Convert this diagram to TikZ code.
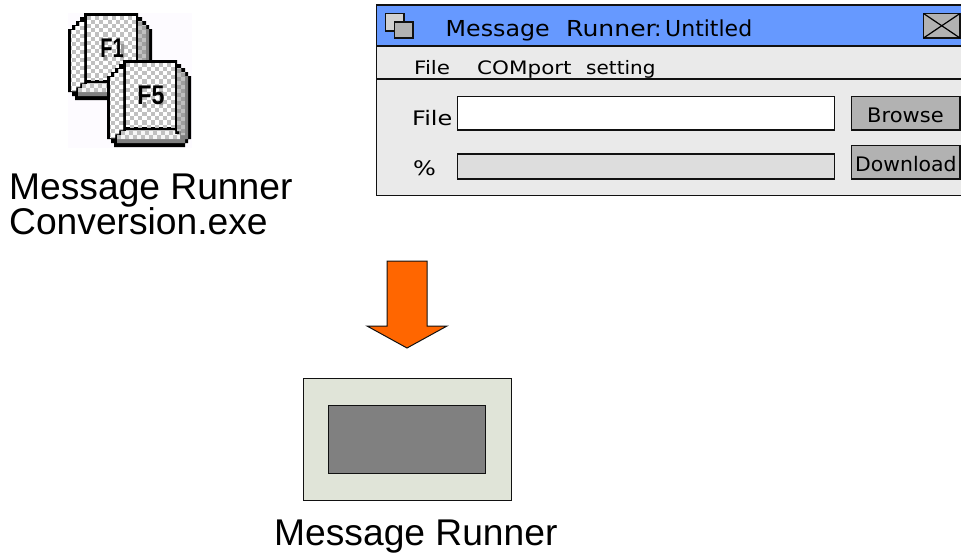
\documentclass[tikz,border=0pt]{standalone}
\usepackage{fontspec}
\setmainfont{Liberation Sans}
\newfontfamily\uifont{DejaVu Sans}
\definecolor{barblue}{HTML}{6699FF}
\definecolor{winbg}{HTML}{EAEAEA}
\definecolor{progbg}{HTML}{DDDDDD}
\definecolor{btnbg}{HTML}{B2B2B2}
\definecolor{devbg}{HTML}{E0E4D8}
\definecolor{devscr}{HTML}{808080}
\definecolor{arrowor}{HTML}{FF6600}
\definecolor{iconbg}{HTML}{FDFBFF}
\definecolor{chk}{HTML}{C0C0C0}
\definecolor{edge}{HTML}{111111}
\newcommand{\keyicon}[4]{% dx dy label xscale
  \begin{scope}[shift={(#1,#2)}]
    % stepped black outline
    \fill[black] (84,13)--(138,13)--(138,17)--(142,17)--(142,21)--(146,21)--(146,25)--(149,25)--(149,29)--(152,29)
      --(152,92)--(149,92)--(149,96)--(146,96)--(146,100)--(75,100)--(75,96)--(72,96)--(72,92)--(68,92)
      --(68,29)--(72,29)--(72,25)--(76,25)--(76,21)--(80,21)--(80,17)--(84,17)--cycle;
    \fill[gray] (140,21)--(142,21)--(142,25)--(146,25)--(146,29)--(149,29)--(149,92)--(146,92)--(146,96)--(78,96)--(78,92)--(140,92)--cycle;
    \fill[white] (71,30)--(75,30)--(75,26)--(79,26)--(79,22)--(84,22)--(84,83)--(80,83)--(80,87)--(76,87)--(76,91)--(71,91)--cycle;
    \fill[chk] (87,83)--(136,83)--(136,87)--(141,87)--(141,92)--(78,92)--(78,88)--(82,88)--(82,84)--(87,84)--cycle;
    \fill[gray!75] (138,21)--(142,21)--(142,25)--(146,25)--(146,88)--(142,88)--(142,84)--(138,84)--cycle;
    \begin{scope}
      \clip (71,30)--(75,30)--(75,26)--(79,26)--(79,22)--(84,22)--(84,83)--(80,83)--(80,87)--(76,87)--(76,91)--(71,91)--cycle;
      \foreach \i in {0,...,4}\foreach \j in {0,...,20}{
        \pgfmathtruncatemacro{\p}{mod(\i+\j,2)}
        \ifnum\p=0 \fill[chk] (68+\i*4,14+\j*4) rectangle +(4,4);\fi}
    \end{scope}
    \fill[white] (87,16) rectangle (136,80);
    \begin{scope}
      \clip (87,16) rectangle (136,80);
      \foreach \i in {0,...,11}\foreach \j in {0,...,15}{
        \pgfmathtruncatemacro{\p}{mod(\i+\j,2)}
        \ifnum\p=0 \fill[chk] (87+\i*4.1,16+\j*4.1) rectangle +(4.1,4.1);\fi}
    \end{scope}
    \begin{scope}
      \clip (138,21)--(142,21)--(142,25)--(146,25)--(146,88)--(142,88)--(142,84)--(138,84)--cycle;
      \foreach \j in {0,...,18}{
        \pgfmathtruncatemacro{\p}{mod(\j,2)}
        \ifnum\p=0 \fill[chk] (138,18+\j*4) rectangle +(4,4);\else \fill[chk] (142,18+\j*4) rectangle +(4,4);\fi}
    \end{scope}
    \begin{scope}
      \clip (87,83)--(136,83)--(136,87)--(141,87)--(141,92)--(78,92)--(78,88)--(82,88)--(82,84)--(87,84)--cycle;
      \foreach \i in {0,...,15}{
        \pgfmathtruncatemacro{\p}{mod(\i,2)}
        \ifnum\p=0 \fill[white!85!chk] (78+\i*4,84) rectangle +(4,4);\else \fill[white!85!chk] (78+\i*4,88) rectangle +(4,4);\fi}
    \end{scope}
    \fill[gray!80] (104,55) rectangle (107,60) (121,44) rectangle (124,58);
    \node[keytxt,xscale=#4] (key#3) at (112,48) {#3};
  \end{scope}}
\tikzset{
  x=1pt,y=-1pt,
  keytxt/.style={font=\fontsize{27}{27}\selectfont\bfseries,inner sep=0pt},
  biglabel/.style={font=\fontsize{37.2}{35}\selectfont,inner sep=0pt,anchor=base west},
  uitxt/.style={font=\uifont\fontsize{#1}{#1}\selectfont,inner sep=0pt,anchor=base west},
  uitxt/.default=20,
  uibox/.style={draw=edge,line width=1.5pt},
}
\begin{document}
\begin{tikzpicture}
\useasboundingbox (0,0) rectangle (961,552);
% icon
\fill[iconbg] (68,13) rectangle (192,148);
\keyicon{0}{0}{F1}{.74}
\keyicon{39}{47}{F5}{.86}
\node[biglabel] (lblconv1) at (9,199) {Message Runner};
\node[biglabel] (lblconv2) at (9,234) {Conversion.exe};
% window
\draw[uibox,fill=winbg] (376.5,5) rectangle (964,195.5);
\draw[uibox,fill=barblue] (376.5,5) rectangle (964,46);
\draw[uibox] (376.5,79) -- (964,79);
\draw[uibox,fill=btnbg!60!white] (385.5,13.5) rectangle (404,31);
\draw[uibox,fill=btnbg] (394.5,22) rectangle (413,38);
\node[uitxt=22,xscale=1.08] (t1) at (445.5,36) {Message};
\node[uitxt=22,xscale=1.14] (t2) at (566,36) {Runner};
\node[uitxt=22] (t2c) at (654,36) {:};
\node[uitxt=22] (t3) at (665,36) {Untitled};
\draw[uibox,fill=btnbg] (923.5,13.5) rectangle (960,38);
\draw[line width=1.2pt] (923.5,13.5) -- (960,38) (923.5,38) -- (960,13.5);
\node[uitxt=18.5,xscale=1.16] (m1) at (414,74) {File};
\node[uitxt=18.5,xscale=1.16] (m2) at (477,74) {COMport};
\node[uitxt=18.5,xscale=1.08] (m3) at (586,74) {setting};
\node[uitxt=20,xscale=1.2] (f1) at (412,125) {File};
\node[uitxt=20,xscale=1.2] (f2) at (413,175) {\%};
\draw[uibox,fill=white] (457.5,96.5) rectangle (834.5,130);
\draw[uibox,fill=progbg] (457.5,154) rectangle (834.5,179);
\draw[uibox,fill=btnbg] (851.5,96.5) rectangle (960,130);
\draw[uibox,fill=btnbg] (851.5,145.5) rectangle (960,179);
\node[uitxt=20,xscale=1.05] (b1) at (867,122) {Browse};
\node[uitxt=20,xscale=1.02] (b2) at (855,171) {Download};
% arrow
\draw[draw=edge,line width=1pt,fill=arrowor] (387,261)--(427,261)--(427,326)--(447,326)--(407,348)--(367,326)--(387,326)--cycle;
% device
\draw[draw=edge,line width=1pt,fill=devbg] (303,378) rectangle (511,500);
\draw[draw=edge,line width=1pt,fill=devscr] (328.5,405) rectangle (485,473);
\node[biglabel] (lbldev) at (274,545) {Message Runner};
\end{tikzpicture}
\end{document}
